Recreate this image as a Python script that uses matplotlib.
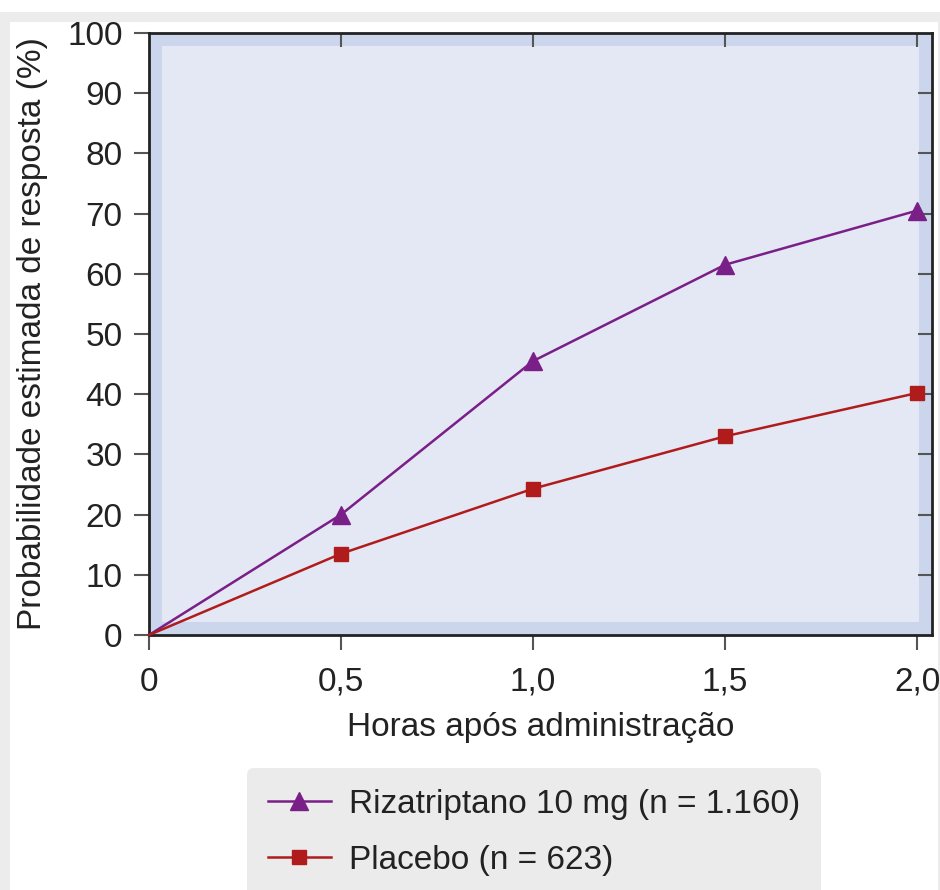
import matplotlib.pyplot as plt
from matplotlib.patches import Rectangle

# data
hours = [0, 0.5, 1.0, 1.5, 2.0]
rizatriptano = [0, 20.0, 45.5, 61.5, 70.5]
placebo = [0, 13.5, 24.3, 33.0, 40.2]
x_ticks = [0, 0.5, 1.0, 1.5, 2.0]
x_ticklabels = ["0", "0,5", "1,0", "1,5", "2,0"]
y_ticks = [0, 10, 20, 30, 40, 50, 60, 70, 80, 90, 100]
label_riza = "Rizatriptano 10 mg (n = 1.160)"
label_placebo = "Placebo (n = 623)"

plt.rcParams["font.family"] = ["Liberation Sans", "DejaVu Sans"]

W, H = 940, 890
fig = plt.figure(figsize=(W / 100, H / 100), dpi=100, facecolor="#ececec")

# white top strip and white panel on the gray page
fig.add_artist(Rectangle((0, 1 - 12 / H), 1, 12 / H, transform=fig.transFigure,
                         facecolor="white", edgecolor="none", zorder=0))
fig.add_artist(Rectangle((10 / W, 0), (938 - 10) / W, (H - 22) / H,
                         transform=fig.transFigure, facecolor="white",
                         edgecolor="none", zorder=0))

ax_l, ax_r, ax_t, ax_b = 149, 932, 33, 635
ax = fig.add_axes([ax_l / W, 1 - ax_b / H, (ax_r - ax_l) / W, (ax_b - ax_t) / H])
ax.set_facecolor("#cbd6ec")
aw, ah = ax_r - ax_l, ax_b - ax_t
band = 13
ax.add_patch(Rectangle((band / aw, band / ah), 1 - 2 * band / aw, 1 - 2 * band / ah,
                       transform=ax.transAxes, facecolor="#e4e8f4",
                       edgecolor="none", zorder=0))

purple = "#7a1f88"
red = "#b01c1c"
ax.plot(hours, rizatriptano, color=purple, linewidth=1.8, marker="^",
        markersize=13, markevery=[1, 2, 3, 4], clip_on=False, zorder=3,
        label=label_riza)
ax.plot(hours, placebo, color=red, linewidth=1.8, marker="s",
        markersize=10, markevery=[1, 2, 3, 4], clip_on=False, zorder=3,
        label=label_placebo)

ax.set_xlim(0, 2.039)
ax.set_ylim(0, 100)
ax.set_xticks(x_ticks)
ax.set_xticklabels(x_ticklabels)
ax.set_yticks(y_ticks)
ax.tick_params(axis="both", direction="out", length=11, width=1.5,
               color="#555555", labelsize=24, labelcolor="#222222")
ax.tick_params(axis="x", pad=12)
ax.tick_params(axis="y", pad=8)

for side in ["top", "right", "left", "bottom"]:
    ax.spines[side].set_linewidth(2.0)
    ax.spines[side].set_color("#222222")

# inward ticks on top and right
top = ax.secondary_xaxis("top")
top.set_xticks(x_ticks[1:])
top.tick_params(direction="in", length=10, width=1.5, color="#555555",
                labeltop=False)
top.spines["top"].set_visible(False)
right = ax.secondary_yaxis("right")
right.set_yticks(y_ticks[1:-1])
right.tick_params(direction="in", length=10, width=1.5, color="#555555",
                  labelright=False)
right.spines["right"].set_visible(False)

ax.set_xlabel("Horas após administração", fontsize=24, color="#222222",
              labelpad=10)
ax.set_ylabel("Probabilidade estimada de resposta (%)", fontsize=24,
              color="#222222", labelpad=14)

leg = fig.legend(loc="upper left", bbox_to_anchor=(247 / W, 1 - 768 / H),
                 borderaxespad=0, fontsize=24, frameon=True, fancybox=True,
                 facecolor="#ebebeb", edgecolor="none", framealpha=1,
                 handlelength=1.9, handletextpad=0.55, labelspacing=0.75,
                 borderpad=0.62)
for t in leg.get_texts():
    t.set_color("#222222")

fig.savefig("out.png", dpi=100, facecolor=fig.get_facecolor())
